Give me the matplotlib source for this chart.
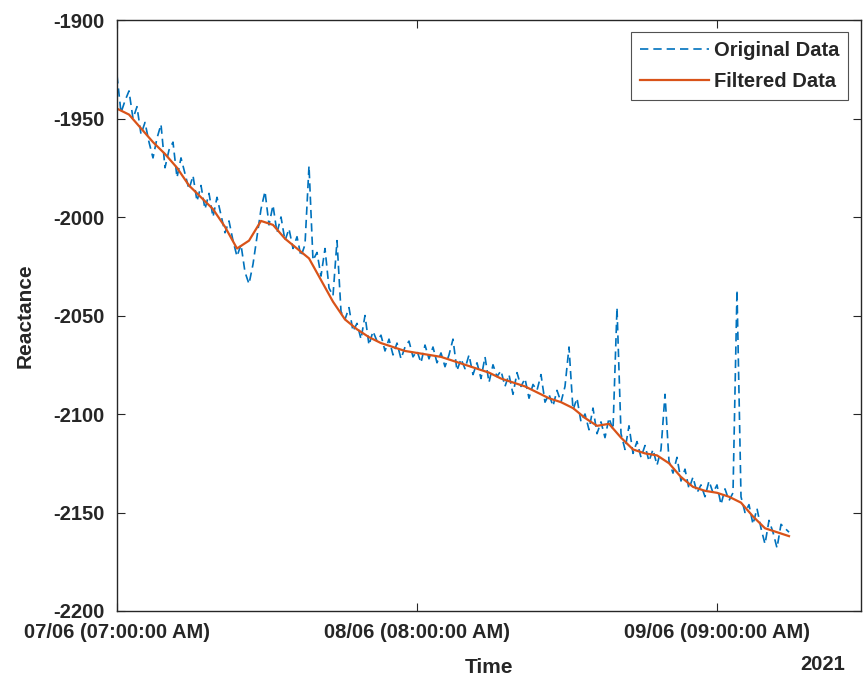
import datetime as dt
import matplotlib
matplotlib.use("Agg")
import matplotlib.pyplot as plt
import matplotlib.dates as mdates
from matplotlib.ticker import FixedLocator

plt.rcParams['font.family'] = ['Liberation Sans', 'DejaVu Sans']
plt.rcParams['font.weight'] = 'bold'
plt.rcParams['axes.unicode_minus'] = False

start = dt.datetime(2021, 6, 7, 7, 0)

# original readings, one every 20 minutes
original = [
    -1928, -1947, -1941, -1936, -1950, -1944, -1958, -1952, -1962,
    -1970, -1960, -1953, -1975, -1966, -1962, -1980, -1970, -1978,
    -1986, -1979, -1992, -1984, -1996, -1988, -2000, -1990, -1999,
    -2008, -2002, -2012, -2020, -2014, -2028, -2034, -2024, -2010,
    -1996, -1987, -2004, -1994, -2008, -2000, -2012, -2006, -2016,
    -2010, -2020, -2014, -1974, -2022, -2018, -2030, -2016, -2036,
    -2040, -2012, -2048, -2052, -2046, -2058, -2054, -2062, -2050,
    -2065, -2058, -2063, -2060, -2068, -2062, -2070, -2064, -2072,
    -2066, -2063, -2071, -2068, -2074, -2065, -2072, -2066, -2074,
    -2069, -2076, -2070, -2062, -2078, -2072, -2077, -2070, -2080,
    -2074, -2082, -2071, -2084, -2075, -2081, -2078, -2086, -2080,
    -2090, -2079, -2086, -2082, -2092, -2085, -2088, -2080, -2094,
    -2090, -2096, -2088, -2094, -2086, -2066, -2098, -2092, -2104,
    -2100, -2108, -2097, -2110, -2104, -2112, -2102, -2108, -2046,
    -2110, -2118, -2106, -2120, -2114, -2122, -2116, -2124, -2118,
    -2126, -2118, -2090, -2124, -2130, -2122, -2134, -2128, -2138,
    -2132, -2140, -2136, -2142, -2134, -2140, -2136, -2146, -2138,
    -2144, -2140, -2037, -2142, -2150, -2146, -2156, -2148, -2158,
    -2166, -2154, -2160, -2168, -2156, -2158, -2160,
]

# filtered curve, one value per hour
filtered = [
    -1945, -1948, -1955, -1962, -1968, -1975, -1984, -1990, -1996, -2005,
    -2016, -2012, -2002, -2004, -2011, -2016, -2021, -2032, -2043, -2052,
    -2057, -2061, -2064, -2066, -2068, -2069, -2070, -2071, -2073, -2075,
    -2077, -2079, -2082, -2084, -2086, -2089, -2092, -2094, -2097, -2102,
    -2106, -2105, -2112, -2118, -2120, -2121, -2125, -2132, -2137, -2139,
    -2140, -2142, -2145, -2152, -2158, -2160, -2162,
]

t_orig = [start + dt.timedelta(minutes=20 * i) for i in range(len(original))]
t_filt = [start + dt.timedelta(hours=i) for i in range(len(filtered))]

tick_times = [dt.datetime(2021, 6, 7, 7), dt.datetime(2021, 6, 8, 8), dt.datetime(2021, 6, 9, 9)]

fig = plt.figure(figsize=(8.63, 6.82), dpi=100)
ax = fig.add_axes([117 / 863, 71 / 682, 744 / 863, 591 / 682])

ax.plot(t_orig, original, color='#0072BD', lw=1.2, dashes=(5, 3), label='Original Data')
ax.plot(t_filt, filtered, '-', color='#D95319', lw=1.6, label='Filtered Data')

ax.set_xlim(start, dt.datetime(2021, 6, 9, 21, 0))
ax.set_ylim(-2200, -1900)
ax.set_yticks(range(-2200, -1899, 50))
ax.xaxis.set_major_locator(FixedLocator(mdates.date2num(tick_times)))
ax.xaxis.set_major_formatter(mdates.DateFormatter('%d/%m (%I:%M:%S %p)'))

ax.tick_params(direction='in', length=6, width=0.8, top=True, right=True,
               labelsize=14.5, colors='#262626')
ax.tick_params(axis='y', pad=9)
ax.tick_params(axis='x', pad=9)
for s in ax.spines.values():
    s.set_color('#262626')
    s.set_linewidth(1.0)

ax.set_ylabel('Reactance', fontsize=15, fontweight='bold', color='#262626', labelpad=13)
ax.set_xlabel('Time', fontsize=15, fontweight='bold', color='#262626', labelpad=11)
fig.text(845 / 863, 1 - 665 / 682, '2021', ha='right', va='center',
         fontsize=14.5, fontweight='bold', color='#262626')

leg = ax.legend(loc='upper right', bbox_to_anchor=(0.9825, 0.9797), fontsize=14.5,
                frameon=True, fancybox=False, handlelength=3.4, handletextpad=0.25,
                borderpad=0.45, labelspacing=0.6, borderaxespad=0)
leg.get_frame().set_edgecolor('#262626')
leg.get_frame().set_linewidth(0.8)
for txt in leg.get_texts():
    txt.set_color('#262626')

fig.savefig('out.png', dpi=100)
